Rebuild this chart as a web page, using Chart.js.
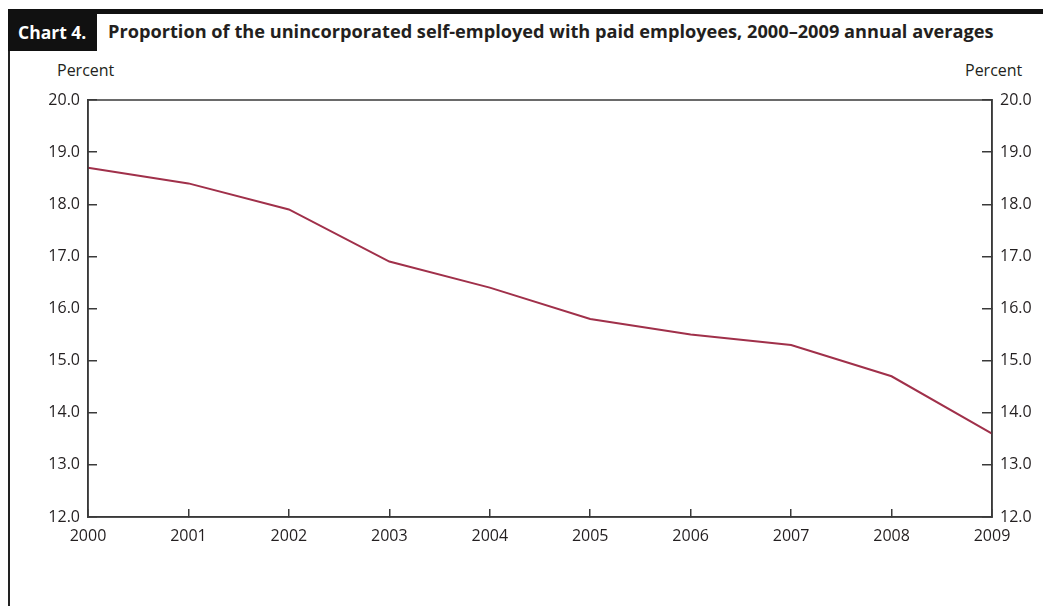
<!DOCTYPE html>
<html>
<head>
<meta charset="utf-8">
<script src="https://cdn.jsdelivr.net/npm/chart.js@4.4.1/dist/chart.umd.min.js"></script>
<style>
  html, body { margin:0; padding:0; background:#fff; }
  body { width:1043px; height:606px; position:relative; overflow:hidden; font-family:"Open Sans", sans-serif; color:#231f20; }
  .topbar { position:absolute; left:8px; top:9px; width:1035px; height:5px; background:#111; }
  .tag { position:absolute; left:8px; top:9px; width:89px; height:42px; background:#111; color:#fff; font-weight:700; font-size:17.5px; line-height:20px; box-sizing:border-box; padding:13px 0 0 10px; }
  .title { position:absolute; left:108px; top:21px; font-weight:700; font-size:18.2px; line-height:20px; white-space:nowrap; }
  .frame { position:absolute; left:8px; top:9px; width:2px; height:597px; background:#222; }
  .unit { position:absolute; top:60px; font-size:16px; line-height:20px; }
  canvas { position:absolute; left:0; top:0; }
</style>
</head>
<body>
<div class="topbar"></div>
<div class="frame"></div>
<div class="tag">Chart 4.</div>
<div class="title">Proportion of the unincorporated self-employed with paid employees, 2000–2009 annual averages</div>
<div class="unit" style="left:57px">Percent</div>
<div class="unit" style="left:965px">Percent</div>
<canvas id="c" width="1043" height="606"></canvas>
<script>
(function(){
  // annual averages, percent
  const years = ['2000','2001','2002','2003','2004','2005','2006','2007','2008','2009'];
  const shareWithEmployees = [18.7, 18.4, 17.9, 16.9, 16.4, 15.8, 15.5, 15.3, 14.7, 13.6];
  const yMin = 12, yMax = 20, yStep = 1;

  const ink = '#231f20';
  const axisColor = '#3a3a3a';
  const tickFont = { family:'"Open Sans", sans-serif', size:16 };

  // plot box is pinned by fixed axis sizes
  const frame = {
    id:'frame',
    afterDraw(chart){
      const a = chart.chartArea, ctx = chart.ctx;
      ctx.save();
      ctx.strokeStyle = axisColor; ctx.lineWidth = 1.5;
      ctx.strokeRect(a.left, a.top, a.right - a.left, a.bottom - a.top);
      ctx.restore();
    }
  };

  const fmt = v => Number(v).toFixed(1);

  new Chart(document.getElementById('c').getContext('2d'), {
    type:'line',
    data:{
      labels: years,
      datasets:[{ data: shareWithEmployees, borderColor:'#a0304a', borderWidth:2, pointRadius:0, tension:0, fill:false }]
    },
    options:{
      responsive:false, animation:false, devicePixelRatio:1,
      layout:{ padding:{ top:100, left:0, right:0, bottom:0 } },
      plugins:{ legend:{display:false}, tooltip:{enabled:false} },
      scales:{
        x:{
          offset:false,
          grid:{ drawOnChartArea:false, tickLength:-8, color:axisColor, lineWidth:1.5 },
          border:{ color:axisColor, width:1.5 },
          ticks:{ color:ink, font:tickFont, padding:18, maxRotation:0, autoSkip:false },
          afterFit(s){ s.height = 89; }
        },
        y:{
          position:'left', min:yMin, max:yMax,
          grid:{ drawOnChartArea:false, tickLength:-9, color:axisColor, lineWidth:1.5 },
          border:{ color:axisColor, width:1.5 },
          ticks:{ stepSize:yStep, color:ink, font:tickFont, padding:17, callback:fmt },
          afterFit(s){ s.width = 88; }
        },
        y2:{
          position:'right', min:yMin, max:yMax,
          grid:{ drawOnChartArea:false, tickLength:-10, color:axisColor, lineWidth:1.5 },
          border:{ color:axisColor, width:1.5 },
          ticks:{ stepSize:yStep, color:ink, font:tickFont, padding:18, callback:fmt },
          afterFit(s){ s.width = 51; }
        }
      }
    },
    plugins:[frame]
  });
})();
</script>
</body>
</html>
